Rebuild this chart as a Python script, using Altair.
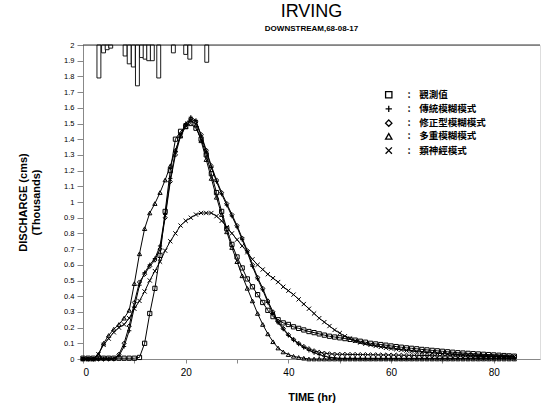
import altair as alt
import pandas as pd

# ---------------- data ----------------
hours = list(range(0, 85))

names = ["觀測值", "傳統模糊模式", "修正型模糊模式", "多重模糊模式", "類神經模式"]

observed = [0.005] * 11 + [0.01,
    0.10, 0.29, 0.45, 0.66, 0.94, 1.20, 1.40, 1.45, 1.48, 1.50,
    1.47, 1.40, 1.30, 1.18, 1.06, 0.94, 0.83, 0.73, 0.65, 0.58,
    0.51, 0.46, 0.41, 0.36, 0.31, 0.27, 0.25, 0.23, 0.22, 0.205,
    0.195, 0.185, 0.175, 0.168, 0.16, 0.152, 0.145, 0.14, 0.135, 0.13,
    0.125, 0.12, 0.113, 0.107, 0.10, 0.096, 0.092, 0.088, 0.083, 0.079,
    0.075, 0.071, 0.068, 0.065, 0.061, 0.058, 0.055, 0.052, 0.049, 0.046,
    0.043, 0.04, 0.038, 0.036, 0.034, 0.032, 0.03, 0.028, 0.026, 0.024,
    0.022, 0.02, 0.018]

traditional = [0.0] * 7 + [
    0.02, 0.08, 0.18, 0.33, 0.47, 0.55, 0.60, 0.64, 0.72, 0.92,
    1.15, 1.32, 1.43, 1.50, 1.54, 1.52, 1.42, 1.32, 1.22, 1.13,
    1.05, 0.98, 0.91, 0.84, 0.76, 0.68, 0.59, 0.51, 0.44, 0.36,
    0.29, 0.23, 0.19, 0.15, 0.12, 0.095, 0.073, 0.055, 0.04, 0.028,
    0.018, 0.011, 0.007] + [0.004] * 35

modified = [0.0] * 7 + [
    0.03, 0.10, 0.21, 0.36, 0.49, 0.54, 0.59, 0.63, 0.70, 0.90,
    1.13, 1.30, 1.42, 1.49, 1.53, 1.51, 1.43, 1.33, 1.23, 1.14,
    1.06, 0.99, 0.92, 0.85, 0.77, 0.69, 0.60, 0.52, 0.45, 0.37,
    0.30, 0.24, 0.195, 0.155, 0.125, 0.10, 0.08, 0.065, 0.052, 0.043,
    0.037, 0.033, 0.031, 0.03, 0.03, 0.029, 0.029, 0.028, 0.028, 0.027,
    0.027, 0.026, 0.026, 0.025, 0.025, 0.024, 0.024, 0.023, 0.023, 0.022,
    0.022, 0.021, 0.021, 0.02, 0.02, 0.02, 0.019, 0.019, 0.018, 0.018,
    0.017, 0.017, 0.016, 0.016, 0.015, 0.015, 0.014, 0.014]

multiple = [0.0] * 3 + [
    0.03, 0.10, 0.15, 0.19, 0.22, 0.26, 0.31, 0.48, 0.67, 0.83,
    0.93, 0.99, 1.06, 1.14, 1.23, 1.33, 1.42, 1.48, 1.52, 1.49,
    1.39, 1.27, 1.15, 1.03, 0.92, 0.81, 0.71, 0.62, 0.53, 0.45,
    0.37, 0.29, 0.22, 0.16, 0.11, 0.07, 0.045, 0.028, 0.017, 0.01,
    0.005] + [0.0] * 41

neural = [0.0] * 3 + [
    0.03, 0.09, 0.13, 0.17, 0.20, 0.22, 0.26, 0.32, 0.37, 0.43,
    0.50, 0.56, 0.62, 0.69, 0.75, 0.80, 0.85, 0.88, 0.90, 0.92,
    0.93, 0.93, 0.93, 0.91, 0.88, 0.84, 0.80, 0.76, 0.72, 0.68,
    0.635, 0.60, 0.57, 0.54, 0.515, 0.49, 0.46, 0.435, 0.41, 0.38,
    0.35, 0.32, 0.29, 0.26, 0.235, 0.21, 0.185, 0.165, 0.145, 0.13,
    0.115, 0.105, 0.097, 0.09, 0.083, 0.077, 0.071, 0.066, 0.062, 0.058,
    0.054, 0.05, 0.047, 0.044, 0.041, 0.039, 0.036, 0.034, 0.032, 0.03,
    0.028, 0.027, 0.025, 0.024, 0.022, 0.021, 0.02, 0.019, 0.018, 0.017,
    0.016, 0.015]

# rainfall hyetograph hanging from the top (hour centre, depth on the axis scale)
rain_time = [3.1, 4.0, 4.7, 5.4, 8.2, 9.0, 9.8, 10.6, 11.4, 12.1, 12.8, 13.5,
             14.75, 17.6, 20.0, 20.8, 24.1]
rain_depth = [0.21, 0.05, 0.03, 0.02, 0.07, 0.12, 0.14, 0.26, 0.08, 0.09, 0.10,
              0.10, 0.21, 0.05, 0.06, 0.09, 0.11]

y_ticks = [0.0, 0.1, 0.2, 0.3, 0.4, 0.5, 0.6, 0.7, 0.8, 0.9, 1.0,
           1.1, 1.2, 1.3, 1.4, 1.5, 1.6, 1.7, 1.8, 1.9, 2.0]
x_ticks = [0, 10, 20, 30, 40, 50, 60, 70, 80]

# ---------------- tables ----------------
series_values = [observed, traditional, modified, multiple, neural]
rows = []
for name, vals in zip(names, series_values):
    for t, v in zip(hours, vals):
        rows.append({"t": t, "q": v, "series": name})
df = pd.DataFrame(rows)
rain = pd.DataFrame({"t": rain_time, "d": rain_depth})

plus_path = "M-1,0L1,0M0,-1L0,1"
x_path = "M-1,-1L1,1M-1,1L1,-1"
shapes = ["square", plus_path, "diamond", "triangle-up", x_path]

FONT = "Liberation Sans"

xscale = alt.Scale(domain=[0, 89], nice=False, zero=False)
yscale = alt.Scale(domain=[0, 2], nice=False)

xaxis = alt.Axis(values=x_ticks,
                 labelExpr="datum.value % 20 == 0 ? datum.value : ''",
                 title="TIME (hr)", titlePadding=14, tickSize=4,
                 labelPadding=4, grid=False, labelOverlap=False)
yaxis = alt.Axis(values=y_ticks, format=".1~f",
                 title=["DISCHARGE (cms)", "(Thousands)"], titlePadding=22,
                 tickSize=6, labelPadding=3, grid=False, labelOverlap=False,
                 labelFontSize=7.5, tickCount=21)

base = alt.Chart(df)

lines = base.mark_line(color="black", strokeWidth=1).encode(
    x=alt.X("t:Q", scale=xscale, axis=xaxis),
    y=alt.Y("q:Q", scale=yscale, axis=yaxis),
    detail="series:N",
)

NB = "\u00a0"
points = base.mark_point(filled=False, size=18, strokeWidth=1,
                         color="black", opacity=1).encode(
    x=alt.X("t:Q", scale=xscale, axis=xaxis),
    y=alt.Y("q:Q", scale=yscale, axis=yaxis),
    shape=alt.Shape("series:N",
                    scale=alt.Scale(domain=names, range=shapes),
                    legend=alt.Legend(
                        title=None, orient="none", legendX=301, legendY=45,
                        labelExpr="':" + NB * 4 + "' + datum.label",
                        labelFont="Noto Sans CJK TC", labelFontSize=9.5,
                        labelFontWeight="bold", labelColor="black",
                        symbolSize=40, symbolStrokeColor="black",
                        symbolStrokeWidth=1.3, symbolFillColor="white",
                        rowPadding=1.2, labelOffset=14, padding=0)),
)

bars = alt.Chart(rain).transform_calculate(
    t0="datum.t - 0.38", t1="datum.t + 0.38", top="2", bot="2 - datum.d"
).mark_rect(fill="white", stroke="black", strokeWidth=0.9).encode(
    x=alt.X("t0:Q", scale=xscale, axis=xaxis),
    x2="t1:Q",
    y=alt.Y("top:Q", scale=yscale, axis=yaxis),
    y2="bot:Q",
)

top_rule = alt.Chart(pd.DataFrame({"v": [2]})).mark_rule(
    color="black", strokeWidth=0.8).encode(
    y=alt.Y("v:Q", scale=yscale, axis=yaxis))

chart = alt.layer(lines, points, bars, top_rule).properties(
    width=457, height=314,
    title=alt.TitleParams(
        text="IRVING", subtitle="DOWNSTREAM,68-08-17",
        font=FONT, fontSize=18, fontWeight="normal", color="black",
        subtitleFont=FONT, subtitleFontSize=8, subtitleFontWeight="bold",
        subtitleColor="black", subtitlePadding=4, offset=8, anchor="middle"),
    autosize=alt.AutoSizeParams(type="none"),
    padding={"left": 83, "top": 45, "right": 1, "bottom": 46},
).configure_view(stroke=None).configure_axis(
    labelFont=FONT, labelFontSize=8, labelFontWeight="bold", labelColor="black",
    titleFont=FONT, titleFontSize=8, titleFontWeight="bold", titleColor="black",
    domainColor="black", tickColor="black", domainWidth=1, tickWidth=1,
).configure(background="white")

chart.save("out.html", embed_options={"renderer": "svg", "actions": False})
